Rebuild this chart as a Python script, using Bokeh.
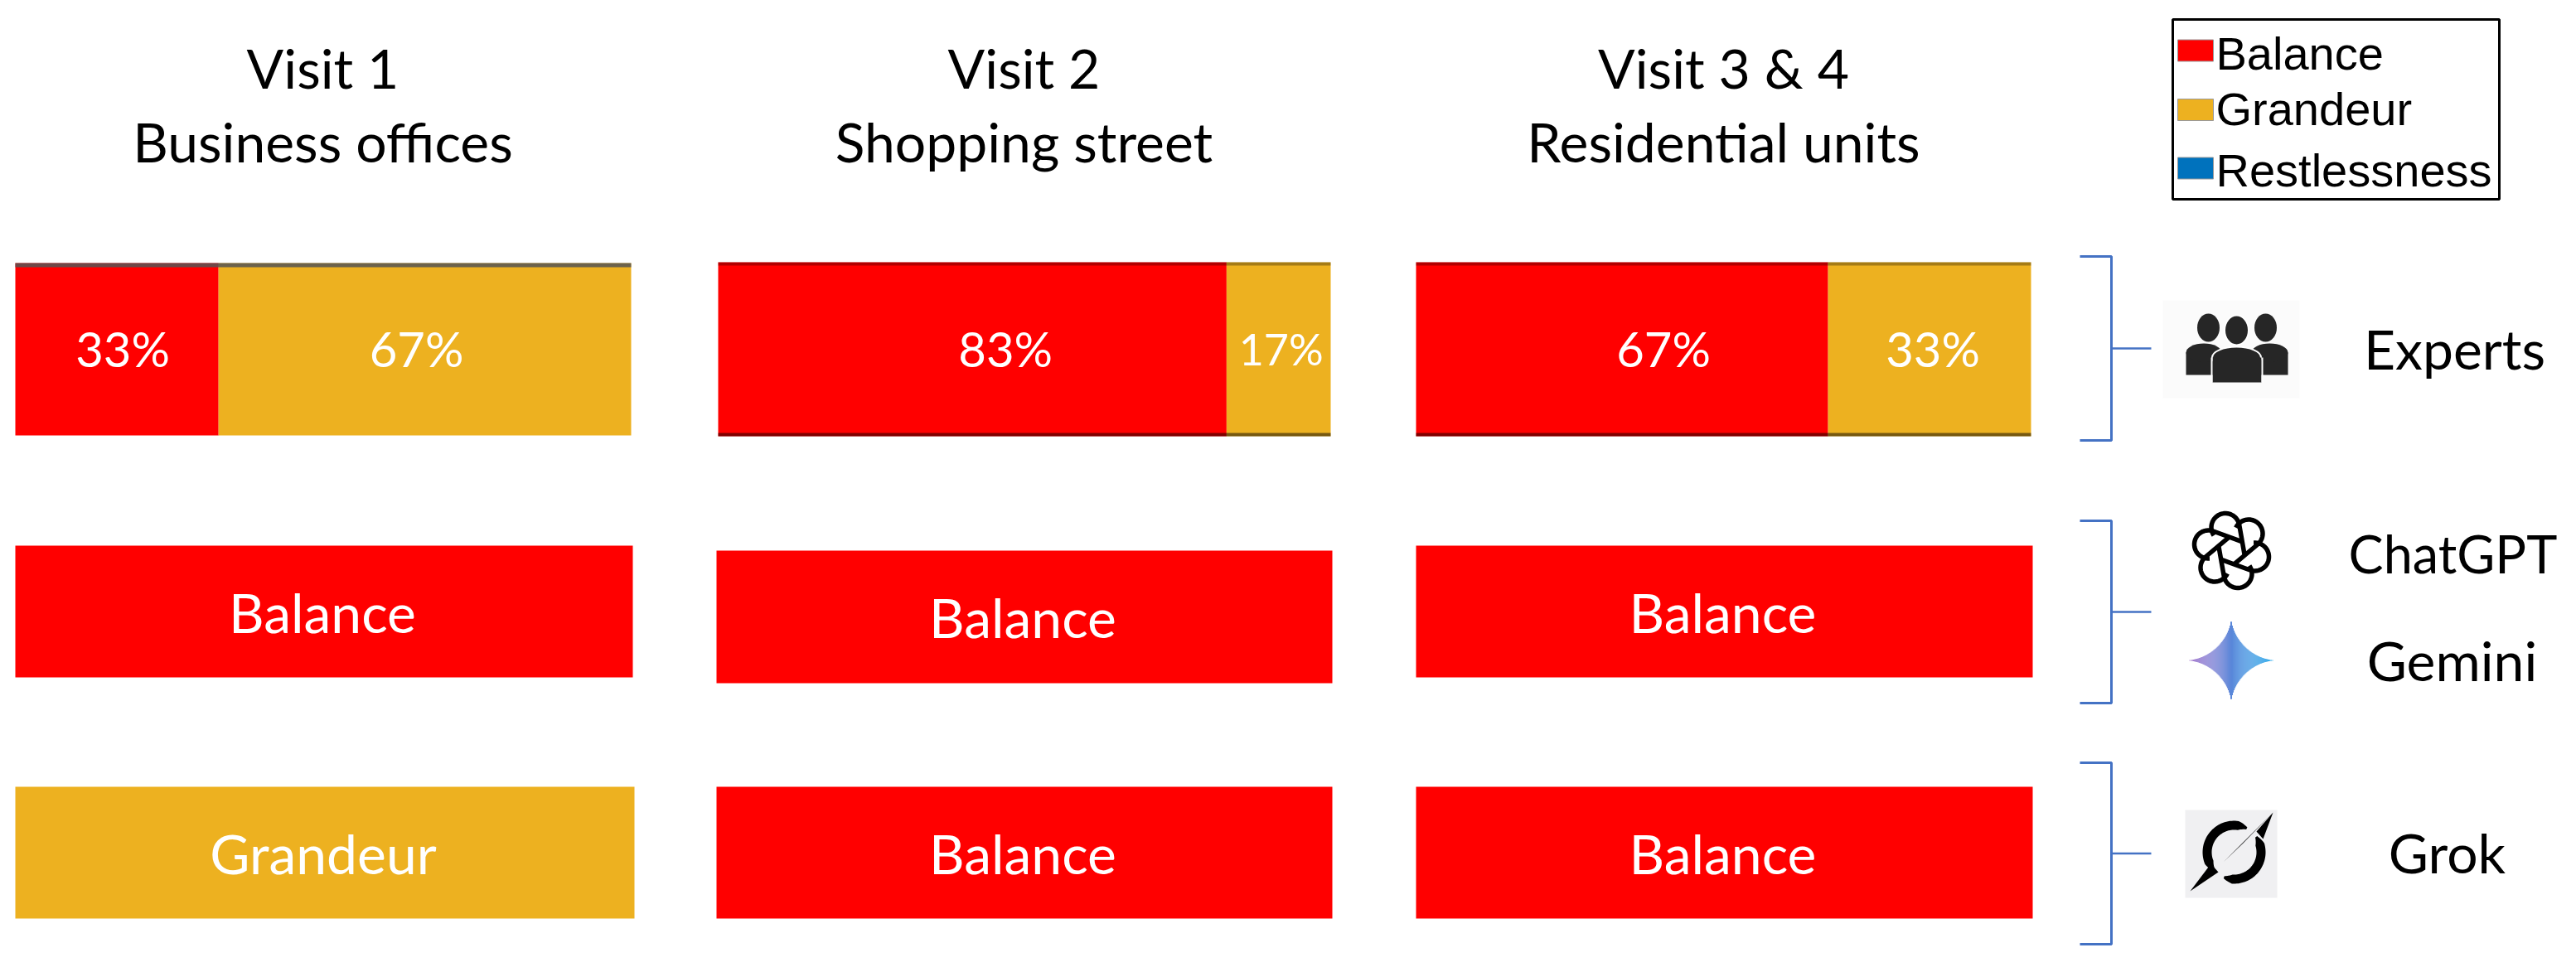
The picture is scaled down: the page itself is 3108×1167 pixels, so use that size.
import numpy as np
from bokeh.plotting import figure
from bokeh.models import Range1d
from bokeh.core.properties import value
from bokeh.embed import file_html
from bokeh.resources import INLINE

# ---- data ----
visit_titles = ["Visit 1", "Visit 2", "Visit 3 & 4"]
visit_places = ["Business offices", "Shopping street", "Residential units"]
categories = ["Balance", "Grandeur", "Restlessness"]
expert_balance = [33, 83, 67]
expert_grandeur = [67, 17, 33]
chatgpt_gemini_choice = ["Balance", "Balance", "Balance"]
grok_choice = ["Grandeur", "Balance", "Balance"]
sources = ["Experts", "ChatGPT", "Gemini", "Grok"]

# ---- style ----
COL = {"Balance": "#FF0000", "Grandeur": "#EDB120", "Restlessness": "#0072BD"}
BLUE = "#4472C4"
FONT = "Lato"
TXT = "66px"

# ---- layout, page pixels ----
ROW1 = [(18, 761, 317, 525), (866, 1605, 316, 526), (1708, 2450, 316, 526)]
ROW2 = [(18, 763, 658, 817), (864, 1607, 664, 824), (1708, 2452, 658, 817)]
ROW3 = [(18, 765, 949, 1108), (864, 1607, 949, 1108), (1708, 2452, 949, 1108)]
TITLE_X = [389, 1235, 2079]
LABEL_SHIFT = [(7, -10), (40, 3), (50, 4)]

p = figure(width=3092, height=1151, output_backend="svg", toolbar_location=None,
           x_range=Range1d(0, 3092), y_range=Range1d(1151, 0),
           min_border=0, outline_line_color=None, background_fill_color="white")
p.axis.visible = False
p.grid.visible = False


def text(x, y, s, color="black", size=TXT, font=FONT, align="center"):
    p.text([x], [y], text=[s], text_color=color, text_font=value(font),
           text_font_size=value(size), text_align=align, text_baseline="middle")


for i in range(3):
    text(TITLE_X[i], 81, visit_titles[i])
    text(TITLE_X[i], 170, visit_places[i])

# Row 1: expert shares
for i, (x0, x1, y0, y1) in enumerate(ROW1):
    total = expert_balance[i] + expert_grandeur[i]
    split = x0 + (x1 - x0) * expert_balance[i] / total
    p.quad(left=[x0], right=[split], top=[y0], bottom=[y1], fill_color=COL["Balance"], line_color=None)
    p.quad(left=[split], right=[x1], top=[y0], bottom=[y1], fill_color=COL["Grandeur"], line_color=None)
    if i == 0:
        p.quad(left=[x0], right=[x1], top=[y0], bottom=[y0 + 5], fill_color="#555555", fill_alpha=0.85, line_color=None)
    else:
        p.quad(left=[x0], right=[x1], top=[y0], bottom=[y0 + 4], fill_color="black", fill_alpha=0.3, line_color=None)
        p.quad(left=[x0], right=[x1], top=[y1 - 4], bottom=[y1], fill_color="black", fill_alpha=0.5, line_color=None)
    s0, s1 = LABEL_SHIFT[i]
    text((x0 + split) / 2 + s0, 420, f"{expert_balance[i]}%", color="white", size="58px")
    text((split + x1) / 2 + s1, 420, f"{expert_grandeur[i]}%", color="white",
         size="52px" if expert_grandeur[i] < 20 else "58px")

# Rows 2 and 3: one whole-bar verdict
for row, choices in ((ROW2, chatgpt_gemini_choice), (ROW3, grok_choice)):
    for (x0, x1, y0, y1), c in zip(row, choices):
        p.quad(left=[x0], right=[x1], top=[y0], bottom=[y1], fill_color=COL[c], line_color=None)
        text((x0 + x1) / 2 - 2, (y0 + y1) / 2, c, color="white")

# Legend
p.quad(left=[2621], right=[3015], top=[23], bottom=[240], fill_color="white", line_color="black", line_width=3)
for c, y, ty in zip(categories, (60.5, 132, 202.5), (64, 131, 205)):
    p.quad(left=[2627], right=[2670], top=[y - 13], bottom=[y + 13], fill_color=COL[c],
           line_color="#999999", line_width=1)
    text(2673, ty, c, font="Liberation Sans", size="56px", align="left")

# Brackets
for y0, y1 in ((309, 531), (628, 848), (920, 1139)):
    p.line([2509, 2547, 2547, 2509], [y0, y0, y1, y1], line_color=BLUE, line_width=3)
    p.line([2547, 2595], [(y0 + y1) / 2] * 2, line_color=BLUE, line_width=2.5)

# Source names
text(2961, 420, sources[0])
text(2959, 667, sources[1], size="63px")
text(2958, 796, sources[2])
text(2952, 1028, sources[3])

# Icon: people
p.quad(left=[2609], right=[2774], top=[362], bottom=[480], fill_color="#FBFBFB", line_color=None)
DARK = "#262626"
for cx in (2664, 2733):
    p.ellipse([cx], [395], width=27, height=34, fill_color=DARK, line_color=None)
for a, b in ((2637, 2680), (2716, 2760)):
    p.quad(left=[a], right=[b], top=[425], bottom=[452], fill_color=DARK, line_color=None)
    p.ellipse([(a + b) / 2], [425], width=b - a, height=22, fill_color=DARK, line_color=None)
p.ellipse([2698], [431], width=59, height=26, fill_color=DARK, line_color="white", line_width=2)
p.quad(left=[2669], right=[2728], top=[431], bottom=[461], fill_color=DARK, line_color=None)
p.line([2668, 2668], [431, 461], line_color="white", line_width=2)
p.line([2729, 2729], [431, 461], line_color="white", line_width=2)
p.ellipse([2698], [398], width=29, height=36, fill_color=DARK, line_color="white", line_width=2)

# Icon: ChatGPT knot, six petals turning into straight strands
cx, cy = 2692, 664
for k in range(6):
    a = np.deg2rad(60 * k + 15)
    d, r, L = 29, 17, 36
    th = np.linspace(a - np.deg2rad(110), a + np.deg2rad(95), 30)
    xs = cx + d * np.cos(a) + r * np.cos(th)
    ys = cy + d * np.sin(a) + r * np.sin(th)
    tang = th[-1] + np.pi / 2
    xs = np.r_[xs, xs[-1] + L * np.cos(tang)]
    ys = np.r_[ys, ys[-1] + L * np.sin(tang)]
    p.line(xs, ys, line_color="black", line_width=5.5)

# Icon: Gemini star, graded left to right
gx, gy, gw, gh = 2691.5, 796.5, 53, 52
edges = np.linspace(-1, 1, 105)
c0, c1 = np.array([160, 105, 200]), np.array([20, 165, 235])
for a, b in zip(edges[:-1], edges[1:]):
    m = (a + b) / 2
    half = (1 - abs(m) ** 0.6) ** (1 / 0.6)
    f = (m + 1) / 2
    rgb = (c0 + (c1 - c0) * f).astype(int)
    p.quad(left=[gx + gw * a], right=[gx + gw * b], top=[gy - gh * half], bottom=[gy + gh * half],
           fill_color="#%02x%02x%02x" % tuple(rgb), line_color=None)

# Icon: Grok mark
p.quad(left=[2636], right=[2747], top=[977], bottom=[1083], fill_color="#F0F0F2", line_color=None)
gkx, gky, ro, ri = 2695, 1028, 38, 27


def arc_patch(t0, t1):
    th = np.deg2rad(np.linspace(t0, t1, 50))
    w = np.minimum(1, np.minimum(np.arange(50), 49 - np.arange(50)) / 8 + 0.25)
    mid = (ro + ri) / 2
    outer = mid + (ro - ri) / 2 * w
    inner = mid - (ro - ri) / 2 * w
    xo, yo = gkx + outer * np.cos(th), gky - outer * np.sin(th)
    xi, yi = gkx + inner * np.cos(th), gky - inner * np.sin(th)
    p.patch(np.r_[xo, xi[::-1]], np.r_[yo, yi[::-1]], fill_color="black", line_color=None)


arc_patch(62, 222)
arc_patch(248, 395)
p.patch([2742, 2722, 2730], [980, 1003, 1012], fill_color="black", line_color=None)
p.patch([2742, 2682, 2706], [980, 1040, 1017], fill_color="black", line_color=None)
p.patch([2642, 2667, 2676], [1075, 1042, 1052], fill_color="black", line_color=None)

open("out.html", "w").write(file_html(p, INLINE))
